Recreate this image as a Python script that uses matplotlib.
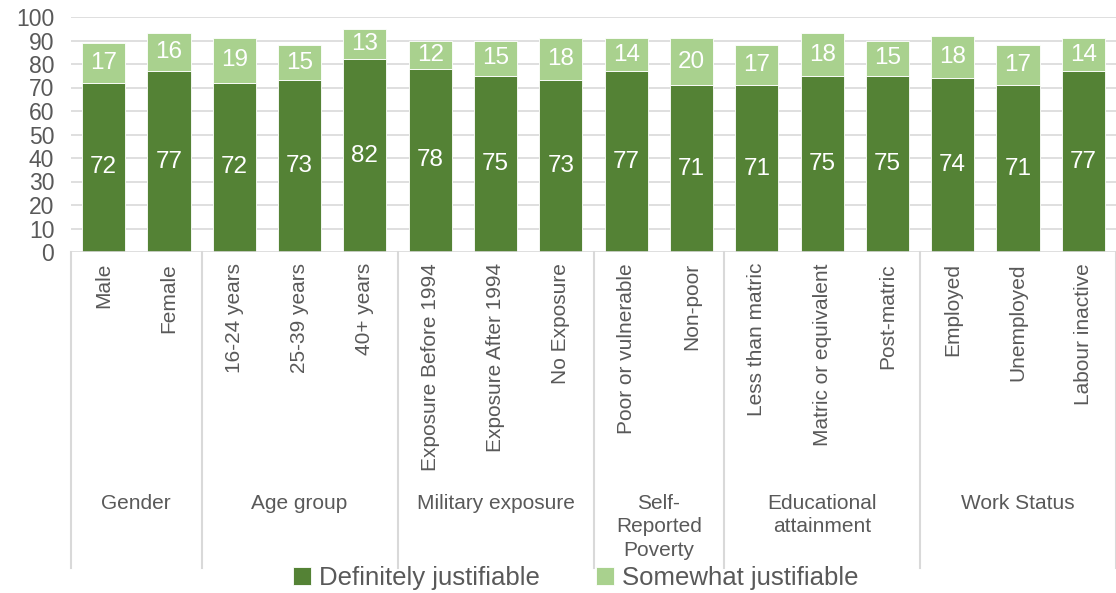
import numpy as np
import matplotlib.pyplot as plt

plt.rcParams['font.family'] = ['Liberation Sans', 'DejaVu Sans']

# survey breakdown: sub-categories, their group and the two response shares
categories = ["Male", "Female",
              "16-24 years", "25-39 years", "40+ years",
              "Exposure Before 1994", "Exposure After 1994", "No Exposure",
              "Poor or vulnerable", "Non-poor",
              "Less than matric", "Matric or equivalent", "Post-matric",
              "Employed", "Unemployed", "Labour inactive"]
groups = ["Gender", "Age group", "Military exposure",
          "Self-\nReported\nPoverty", "Educational\nattainment", "Work Status"]
group_sizes = [2, 3, 3, 2, 3, 3]
definitely = [72, 77, 72, 73, 82, 78, 75, 73, 77, 71, 71, 75, 75, 74, 71, 77]
somewhat = [17, 16, 19, 15, 13, 12, 15, 18, 14, 20, 17, 18, 15, 18, 17, 14]

dark = "#548235"
light = "#A9D18E"
txt = "#595959"
grid = "#D9D9D9"

W, H = 1116, 593
fig = plt.figure(figsize=(W / 100, H / 100), dpi=100)
ax = fig.add_axes([71 / W, 1 - 252 / H, (W - 71) / W, 235 / H])

x = np.arange(len(categories))
b1 = ax.bar(x, definitely, width=0.66, color=dark, edgecolor="white", linewidth=0.6, zorder=3)
b2 = ax.bar(x, somewhat, width=0.66, bottom=definitely, color=light,
            edgecolor="white", linewidth=0.6, zorder=3)
ax.bar_label(b1, labels=[str(v) for v in definitely], label_type="center",
             color="white", fontsize=17.5)
ax.bar_label(b2, labels=[str(v) for v in somewhat], label_type="center",
             color="white", fontsize=17.5)

ax.set_xlim(-0.5, len(categories) - 0.5)
ax.set_ylim(0, 100)
ax.set_yticks(range(0, 101, 10))
for v in range(10, 101, 10):
    ax.axhline(v, color=grid, lw=1.2, zorder=0)
ax.axhline(0, color=grid, lw=1.2, zorder=4)
for s in ax.spines.values():
    s.set_visible(False)
ax.tick_params(axis="y", length=0, labelsize=16.5, labelcolor=txt, pad=12)
ax.tick_params(axis="x", length=0)
ax.set_xticks(x)
ax.set_xticklabels(categories, rotation=90, fontsize=15, color=txt, va="top")
ax.tick_params(axis="x", pad=8)

# group separators and group labels below the category labels
trans = ax.get_xaxis_transform()
depth = -(568 - 252) / 235
edges = np.concatenate([[0], np.cumsum(group_sizes)]) - 0.5
for e in edges:
    ax.plot([e, e], [0, depth], color=grid, lw=1.5, transform=trans, clip_on=False)
for g, lo, hi in zip(groups, edges[:-1], edges[1:]):
    ax.text((lo + hi) / 2, -(494 - 252) / 235, g, transform=trans, ha="center", va="top",
            fontsize=15, color=txt, linespacing=1.3)

fig.legend(handles=[b1, b2], labels=["Definitely justifiable", "Somewhat justifiable"],
           loc="center", bbox_to_anchor=(576 / W, 1 - 578 / H), ncol=2, frameon=False,
           fontsize=18.5, labelcolor=txt, handlelength=0.7, handleheight=0.7,
           handletextpad=0.3, columnspacing=2.2, borderpad=0)

fig.savefig("out.png", dpi=100)
